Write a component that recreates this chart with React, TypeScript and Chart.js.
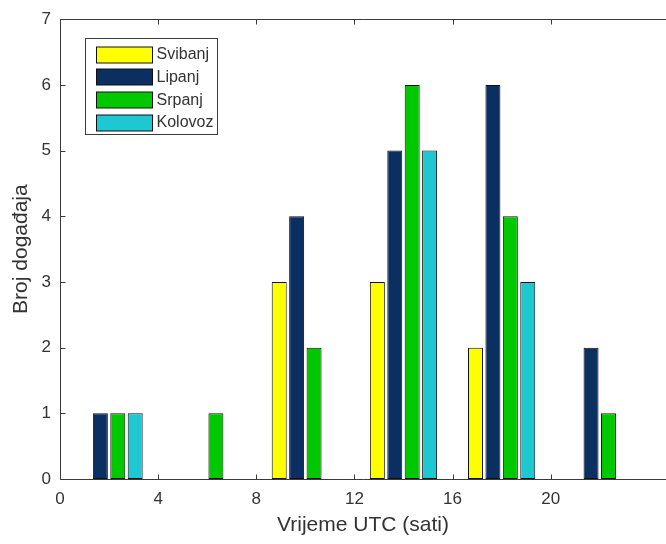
import React, { useEffect, useRef } from 'react';
import { Chart, registerables } from 'chart.js';

Chart.register(...registerables);

const hours = [2, 6, 10, 14, 18, 22];
const seriesNames = ['Svibanj', 'Lipanj', 'Srpanj', 'Kolovoz'];
const svibanj = [0, 0, 3, 3, 2, 0];
const lipanj = [1, 0, 4, 5, 6, 2];
const srpanj = [1, 1, 2, 6, 4, 1];
const kolovoz = [1, 0, 0, 5, 3, 0];
const xTickValues = [0, 4, 8, 12, 16, 20];
const yMin = 0;
const yMax = 7;
const xMin = 0;
const xMax = 24.7;
const xTitle = 'Vrijeme UTC (sati)';
const yTitle = 'Broj događaja';

const seriesColors = ['#ffff00', '#0b2f60', '#00c800', '#1ec8d2'];
const FONT = "'Liberation Sans', Arial, Helvetica, sans-serif";
const AXIS_COLOR = '#3a3a3a';
const TEXT_COLOR = '#333333';

const matlabPlugin = {
  id: 'matlabAxes',
  afterDatasetsDraw(chart: any) {
    const { ctx, chartArea, scales } = chart;
    const { left, right, top, bottom } = chartArea;
    const x = scales.x;
    const y = scales.y;
    ctx.save();
    ctx.strokeStyle = AXIS_COLOR;
    ctx.lineWidth = 1;
    ctx.beginPath();
    const L = Math.round(left) + 0.5;
    const B = Math.round(bottom) + 0.5;
    const T = Math.round(top) + 0.5;
    ctx.moveTo(L, T);
    ctx.lineTo(L, B);
    ctx.moveTo(L, B);
    ctx.lineTo(right, B);
    ctx.moveTo(L, T);
    ctx.lineTo(right, T);
    for (const t of x.ticks) {
      const px = Math.round(x.getPixelForValue(t.value)) + 0.5;
      ctx.moveTo(px, B);
      ctx.lineTo(px, B - 5);
      ctx.moveTo(px, T);
      ctx.lineTo(px, T + 5);
    }
    for (const t of y.ticks) {
      const py = Math.round(y.getPixelForValue(t.value)) + 0.5;
      ctx.moveTo(L, py);
      ctx.lineTo(L + 5, py);
    }
    ctx.stroke();

    // legend box (top-left inside axes)
    const bx = Math.round(left) + 25.5;
    const by = Math.round(top) + 19.5;
    const bw = 132;
    const bh = 96;
    ctx.fillStyle = '#ffffff';
    ctx.fillRect(bx, by, bw, bh);
    ctx.strokeStyle = AXIS_COLOR;
    ctx.strokeRect(bx, by, bw, bh);
    ctx.font = `16px ${FONT}`;
    ctx.textBaseline = 'middle';
    ctx.textAlign = 'left';
    chart.data.datasets.forEach((ds: any, i: number) => {
      const cy = by + 16 + i * 22.8;
      ctx.fillStyle = ds.backgroundColor;
      ctx.fillRect(bx + 11, Math.round(cy - 8), 56, 16);
      ctx.strokeStyle = '#111111';
      ctx.strokeRect(bx + 11, Math.round(cy - 8), 56, 16);
      ctx.fillStyle = TEXT_COLOR;
      ctx.fillText(ds.label, bx + 71, cy);
    });
    ctx.restore();
  },
};

export default function App() {
  const canvasRef = useRef<HTMLCanvasElement | null>(null);

  useEffect(() => {
    const canvas = canvasRef.current;
    if (!canvas) return;
    const seriesData = [svibanj, lipanj, srpanj, kolovoz];
    const chart = new Chart(canvas, {
      type: 'bar',
      data: {
        datasets: seriesData.map((vals, i) => ({
          label: seriesNames[i],
          data: vals.map((v, j) => ({ x: hours[j], y: v })),
          backgroundColor: seriesColors[i],
          borderColor: '#111111',
          borderWidth: (c: any) => (c.raw && c.raw.y === 0 ? 0 : 1),
          borderSkipped: false,
          categoryPercentage: 0.71,
          barPercentage: 0.86,
        })),
      },
      options: {
        responsive: false,
        animation: false,
        devicePixelRatio: 1,
        layout: { padding: { left: 0, top: 15, right: 0, bottom: 0 } },
        plugins: { legend: { display: false }, tooltip: { enabled: false } },
        scales: {
          x: {
            type: 'linear',
            min: xMin,
            max: xMax,
            offset: false,
            grid: { display: false, drawTicks: false, offset: false },
            border: { display: false },
            afterBuildTicks: (scale: any) => {
              scale.ticks = xTickValues.map((v) => ({ value: v }));
            },
            afterFit: (scale: any) => {
              scale.height = 65;
            },
            ticks: {
              color: TEXT_COLOR,
              padding: 10,
              maxRotation: 0,
              font: { family: FONT, size: 17 },
              callback: (v: any) => String(v),
            },
            title: {
              display: true,
              text: xTitle,
              color: TEXT_COLOR,
              font: { family: FONT, size: 21 },
              padding: { top: 0, bottom: 6 },
            },
          },
          y: {
            type: 'linear',
            min: yMin,
            max: yMax,
            grid: { display: false, drawTicks: false },
            border: { display: false },
            afterFit: (scale: any) => {
              scale.width = 60;
            },
            ticks: {
              stepSize: 1,
              color: TEXT_COLOR,
              padding: 9,
              font: { family: FONT, size: 17 },
            },
            title: {
              display: true,
              text: yTitle,
              color: TEXT_COLOR,
              font: { family: FONT, size: 21 },
              padding: { top: 9, bottom: 0 },
            },
          },
        },
      },
      plugins: [matlabPlugin],
    } as any);
    return () => chart.destroy();
  }, []);

  return (
    <div style={{ position: 'fixed', left: 0, top: 0, width: 666, height: 544, background: '#ffffff' }}>
      <canvas ref={canvasRef} width={666} height={544} style={{ display: 'block' }} />
    </div>
  );
}
